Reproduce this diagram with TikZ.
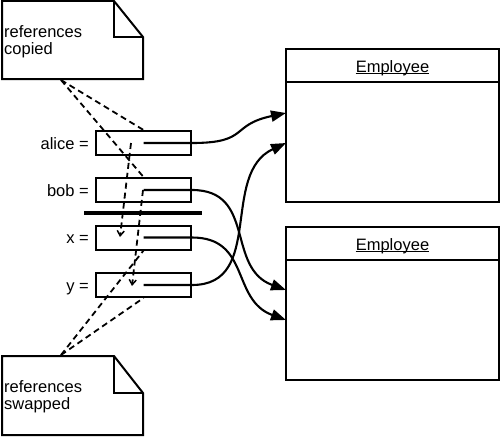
\documentclass[tikz,border=0pt]{standalone}
\usepackage{fontspec}
\setmainfont{Liberation Sans}
\usetikzlibrary{arrows.meta,calc}
\begin{document}
\begin{tikzpicture}[x=1pt,y=-1pt,
  varbox/.style={draw,line width=2pt,minimum width=95pt,minimum height=24pt,inner sep=0pt},
  objbox/.style={draw,line width=1.8pt,minimum width=213pt,minimum height=153pt,inner sep=0pt},
  txt/.style={font=\fontsize{16.5}{17.5}\selectfont,inner sep=0pt},
  lbl/.style={txt,anchor=base east},
  notetext/.style={txt,align=left,anchor=north west},
  noteline/.style={draw,line width=2pt,line join=miter},
  ref/.style={line width=2.1pt,-{Triangle[length=15pt,width=11pt]}},
  dashref/.style={line width=1.8pt,dash pattern=on 6pt off 4pt},
  dasharrow/.style={dashref,-{Straight Barb[length=5pt,width=7pt,line width=1.5pt]}},
  bar/.style={line width=4.8pt}
]
\useasboundingbox (0,0) rectangle (500,436);

% notes
\draw[noteline] (2,1) -- (114,1) -- (143,37) -- (143,79) -- (2,79) -- cycle;
\draw[noteline] (114,1) -- (114,37) -- (143,37);
\node[notetext] (note1) at (4,25) {references\\copied};
\coordinate (n1) at (61,80);

\draw[noteline] (2,356) -- (114,356) -- (143,393) -- (143,435) -- (2,435) -- cycle;
\draw[noteline] (114,356) -- (114,393) -- (143,393);
\node[notetext] (note2) at (4,380) {references\\swapped};
\coordinate (n2) at (61,355);

% variable boxes
\node[varbox] (alice) at (143.5,143) {};
\node[varbox] (bob) at (143.5,190) {};
\node[varbox] (xv) at (143.5,237.5) {};
\node[varbox] (yv) at (143.5,285) {};
\node[lbl] (lalice) at (89,149) {alice =};
\node[lbl] (lbob) at (89,196) {bob =};
\node[lbl] (lx) at (89,243.5) {x =};
\node[lbl] (ly) at (89,291) {y =};

% bar
\coordinate (barl) at (84,213);
\coordinate (barr) at (202,213);
\draw[bar] (barl) -- (barr);

% employee objects
\node[objbox] (e1) at (392.5,125.5) {};
\node[objbox] (e2) at (392.5,303.5) {};
\draw[line width=1.8pt] ($(e1.north west)+(0,34)$) -- ($(e1.north east)+(0,34)$);
\draw[line width=1.8pt] ($(e2.north west)+(0,34)$) -- ($(e2.north east)+(0,34)$);
\node[txt,anchor=base] (t1) at (392.5,72) {Employee};
\node[txt,anchor=base] (t2) at (392.5,250) {Employee};
\draw[line width=1.2pt] ([yshift=-1.6pt]t1.base west) -- ([yshift=-1.6pt]t1.base east);
\draw[line width=1.2pt] ([yshift=-1.6pt]t2.base west) -- ([yshift=-1.6pt]t2.base east);

\coordinate (e1a) at (286,113);
\coordinate (e1b) at (286,143);
\coordinate (e2a) at (286,290);
\coordinate (e2b) at (286,320);

% references
\draw[ref] (alice.center) -- (alice.east) to[out=0,in=192,looseness=1.5] (e1a);
\draw[ref] (yv.center) -- (yv.east) to[out=0,in=205,looseness=1.1] (e1b);
\draw[ref] (bob.center) -- (bob.east) to[out=0,in=160,looseness=1.2] (e2a);
\draw[ref] (xv.center) -- (xv.east) to[out=0,in=160,looseness=1.2] (e2b);

% dashed annotations
\draw[dashref] (n1) -- (alice.north);
\draw[dashref] (n1) -- (bob.north);
\draw[dashref] (n2) -- (xv.south);
\draw[dashref] (n2) -- (yv.south);

\coordinate (da1) at (131,143);
\coordinate (da2) at (120,237);
\coordinate (db1) at (143,190);
\coordinate (db2) at (132,286);
\draw[dasharrow] (da1) -- (da2);
\draw[dasharrow] (db1) -- (db2);
\end{tikzpicture}
\end{document}
